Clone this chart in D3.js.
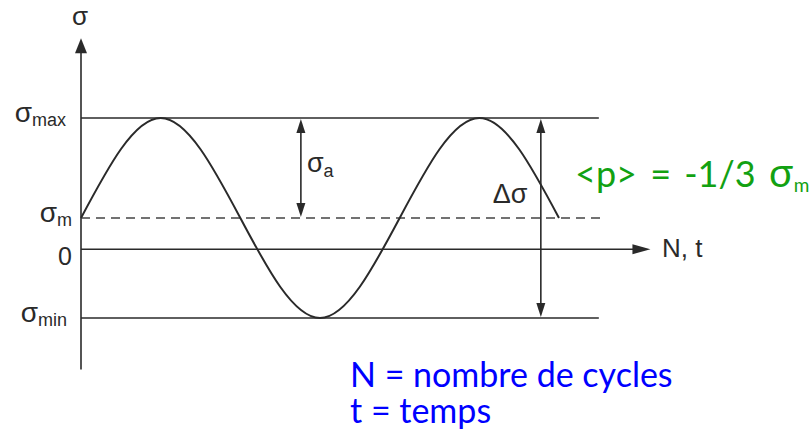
<!DOCTYPE html>
<html>
<head>
<meta charset="utf-8">
<script src="https://cdn.jsdelivr.net/npm/d3@7"></script>
<style>
  html, body { margin: 0; padding: 0; background: #ffffff; }
  svg { display: block; }
</style>
</head>
<body>
<svg id="chart" width="810" height="434"></svg>
<script>
// Stress levels of the cyclic loading (arbitrary units, σm = 1)
const levelSymbols   = ["σ", "σ", "0", "σ"];
const levelSubs      = ["max", "m", "", "min"];
const levelValues    = [4.2, 1, 0, -2.2];

// Waveform nodes, one every quarter cycle
const waveCycles = [0, 0.25, 0.5, 0.75, 1, 1.25, 1.5];
const waveStress = [1, 4.2, 1, -2.2, 1, 4.2, 1];

// Amplitude annotations: position (cycles), from, to, symbol, subscript
const spanLabels  = ["σ", "Δσ"];
const spanSubs    = ["a", ""];
const spanCycles  = [0.69, 1.443];
const spanFrom    = [1, -2.2];
const spanTo      = [4.2, 4.2];

// Axis extents
const axisCycleEnd = 1.787;
const levelCycleEnd = 1.625;
const axisStressTop = 6.75;
const axisStressBottom = -3.85;

// Captions
const axisTitleY = "σ";
const axisTitleX = "N, t";
const meanCaption = ["<p> = -1/3", "σ", "m"];
const legendLines = ["N = nombre de cycles", "t = temps"];

const svg = d3.select("#chart");
const ink = "#2a2a2a";
const blackFont = "'Liberation Sans', Arial, sans-serif";
const slideFont = "Lato, 'Open Sans', sans-serif";

const x = d3.scaleLinear().domain([0, 1.5]).range([81, 559]);
const y = d3.scaleLinear().domain([-2.2, 4.2]).range([318, 118]);

// Vertical stress axis with arrow
svg.append("line")
  .attr("x1", x(0)).attr("x2", x(0))
  .attr("y1", y(axisStressBottom)).attr("y2", y(axisStressTop) + 10)
  .attr("stroke", ink).attr("stroke-width", 1.6);
svg.append("path")
  .attr("d", `M${x(0)},${y(axisStressTop)} L${x(0) - 6},${y(axisStressTop) + 15} L${x(0) + 6},${y(axisStressTop) + 15} Z`)
  .attr("fill", ink);
svg.append("text")
  .attr("x", x(0) - 1).attr("y", 25)
  .attr("text-anchor", "middle")
  .attr("font-family", blackFont).attr("font-size", 26)
  .attr("fill", ink)
  .text(axisTitleY);

// Horizontal lines: σmax, σm (dashed), zero axis, σmin
levelValues.forEach((v, i) => {
  const isZero = v === 0;
  const isMean = levelSubs[i] === "m";
  const xEnd = isZero ? x(axisCycleEnd) - 12 : x(levelCycleEnd) + (isMean ? 2 : 0);
  svg.append("line")
    .attr("x1", x(0)).attr("x2", xEnd)
    .attr("y1", y(v)).attr("y2", y(v))
    .attr("stroke", isMean ? "#444" : ink)
    .attr("stroke-width", isMean ? 1.7 : 1.5)
    .attr("stroke-dasharray", isMean ? "9,6" : null);
  if (isZero) {
    const tip = x(axisCycleEnd);
    svg.append("path")
      .attr("d", `M${tip},${y(0)} L${tip - 18},${y(0) - 5} L${tip - 18},${y(0) + 5} Z`)
      .attr("fill", ink);
  }
});

// Level labels on the left
levelValues.forEach((v, i) => {
  const sub = levelSubs[i];
  const t = svg.append("text")
    .attr("x", sub === "m" ? 72 : sub === "" ? 72 : sub === "max" ? 66 : 67)
    .attr("y", y(v) + (sub === "" ? 16 : 4))
    .attr("text-anchor", "end")
    .attr("font-family", blackFont)
    .attr("fill", ink);
  t.append("tspan").attr("font-size", sub === "" ? 25 : 28).text(levelSymbols[i]);
  if (sub) t.append("tspan").attr("font-size", 18).attr("dy", 4).text(sub);
});

// Sinusoidal stress history
const line = d3.line()
  .x((d, i) => x(waveCycles[i]))
  .y(d => y(d))
  .curve(d3.curveNatural);
svg.append("path")
  .attr("d", line(waveStress))
  .attr("fill", "none")
  .attr("stroke", ink)
  .attr("stroke-width", 2);

// Double-headed arrows for σa and Δσ
spanCycles.forEach((c, i) => {
  const px = x(c);
  const y1 = y(spanTo[i]);
  const y2 = y(spanFrom[i]);
  svg.append("line")
    .attr("x1", px).attr("x2", px)
    .attr("y1", y1 + 6).attr("y2", y2 - 6)
    .attr("stroke", ink).attr("stroke-width", 1.6);
  svg.append("path")
    .attr("d", `M${px},${y1 + 1} L${px - 4.5},${y1 + 15} L${px + 4.5},${y1 + 15} Z`)
    .attr("fill", ink);
  svg.append("path")
    .attr("d", `M${px},${y2 - 1} L${px - 4.5},${y2 - 15} L${px + 4.5},${y2 - 15} Z`)
    .attr("fill", ink);
  const isDelta = spanSubs[i] === "";
  const t = svg.append("text")
    .attr("x", isDelta ? px - 48 : px + 6)
    .attr("y", isDelta ? 203 : 172)
    .attr("font-family", blackFont)
    .attr("fill", ink);
  t.append("tspan").attr("font-size", 27).text(spanLabels[i]);
  if (spanSubs[i]) t.append("tspan").attr("font-size", 18).attr("dy", 5).text(spanSubs[i]);
});

// Horizontal axis title
svg.append("text")
  .attr("x", 662).attr("y", 257)
  .attr("font-family", blackFont).attr("font-size", 26)
  .attr("fill", ink)
  .text(axisTitleX);

// Mean pressure caption
const mean = svg.append("text")
  .attr("x", 575).attr("y", 187)
  .attr("font-family", slideFont)
  .attr("word-spacing", 4)
  .attr("fill", "#12a112");
mean.append("tspan").attr("font-size", 36).text(meanCaption[0] + " ");
mean.append("tspan").attr("font-size", 40).text(meanCaption[1]);
mean.append("tspan").attr("font-size", 19).attr("dx", 1).attr("dy", 5).text(meanCaption[2]);

// Legend of the horizontal axis symbols
const legend = svg.append("text")
  .attr("font-family", slideFont).attr("font-size", 34)
  .attr("fill", "#0000ff");
legendLines.forEach((s, i) => {
  legend.append("tspan")
    .attr("x", 350).attr("y", 387 + i * 36)
    .text(s);
});
</script>
</body>
</html>
